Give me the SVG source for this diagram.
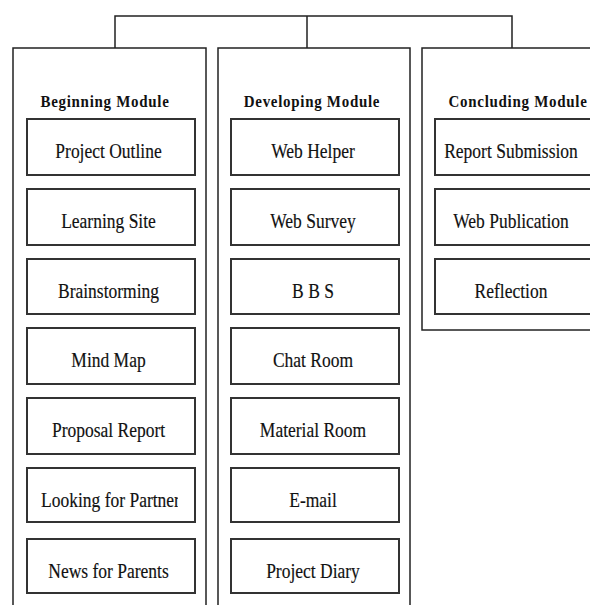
<svg xmlns="http://www.w3.org/2000/svg" width="590" height="605" viewBox="0 0 590 605">
  <style>
    .col { fill: #fff; stroke: #222; stroke-width: 1.5; }
    .item { fill: #fff; stroke: #333; stroke-width: 2; }
    .wire { fill: none; stroke: #222; stroke-width: 1.5; }
    .hd { font-family: "Liberation Serif", "Times New Roman", serif; font-weight: bold; font-size: 15px; letter-spacing: 0.7px; fill: #111; text-anchor: middle; }
    .lb { font-family: "Liberation Serif", "Times New Roman", serif; font-size: 17.5px; fill: #111; stroke: #111; stroke-width: 0.15; text-anchor: middle; }
  </style>
  <defs>
    <clipPath id="clipPartner"><rect x="27" y="460" width="151" height="70"/></clipPath>
  </defs>
  <rect width="590" height="605" fill="#fff"/>

  <!-- tree connectors -->
  <g id="connectors">
    <path class="wire" d="M115,48 V16 H512 V48 M307,16 V48"/>
  </g>

  <!-- Beginning module -->
  <g id="beginning">
    <rect class="col" x="13" y="48" width="193" height="580"/>
    <text class="hd" transform="translate(105,107) scale(1,1.15)">Beginning Module</text>
    <g id="project-outline"><rect class="item" x="27" y="119" width="168" height="56"/><text class="lb" transform="translate(108.5,158) scale(1,1.15)">Project Outline</text></g>
    <g id="learning-site"><rect class="item" x="27" y="189" width="168" height="56"/><text class="lb" transform="translate(108.5,228) scale(1,1.15)">Learning Site</text></g>
    <g id="brainstorming"><rect class="item" x="27" y="259" width="168" height="55"/><text class="lb" transform="translate(108.5,297.5) scale(1,1.15)">Brainstorming</text></g>
    <g id="mind-map"><rect class="item" x="27" y="328" width="168" height="56"/><text class="lb" transform="translate(108.5,367) scale(1,1.15)">Mind Map</text></g>
    <g id="proposal-report"><rect class="item" x="27" y="398" width="168" height="56"/><text class="lb" transform="translate(108.5,437) scale(1,1.15)">Proposal Report</text></g>
    <g id="looking-for-partner"><rect class="item" x="27" y="468" width="168" height="54"/><g clip-path="url(#clipPartner)"><text class="lb" transform="translate(110.5,507) scale(1,1.15)">Looking for Partner</text></g></g>
    <g id="news-for-parents"><rect class="item" x="27" y="539" width="168" height="54"/><text class="lb" transform="translate(108.5,577.5) scale(1,1.15)">News for Parents</text></g>
  </g>

  <!-- Developing module -->
  <g id="developing">
    <rect class="col" x="218" y="48" width="192" height="580"/>
    <text class="hd" transform="translate(312,107) scale(1,1.15)">Developing Module</text>
    <g id="web-helper"><rect class="item" x="231" y="119" width="168" height="56"/><text class="lb" transform="translate(313,158) scale(1,1.15)">Web Helper</text></g>
    <g id="web-survey"><rect class="item" x="231" y="189" width="168" height="56"/><text class="lb" transform="translate(313,228) scale(1,1.15)">Web Survey</text></g>
    <g id="bbs"><rect class="item" x="231" y="259" width="168" height="55"/><text class="lb" transform="translate(313,297.5) scale(1,1.15)">B B S</text></g>
    <g id="chat-room"><rect class="item" x="231" y="328" width="168" height="56"/><text class="lb" transform="translate(313,367) scale(1,1.15)">Chat Room</text></g>
    <g id="material-room"><rect class="item" x="231" y="398" width="168" height="56"/><text class="lb" transform="translate(313,437) scale(1,1.15)">Material Room</text></g>
    <g id="e-mail"><rect class="item" x="231" y="468" width="168" height="54"/><text class="lb" transform="translate(313,507) scale(1,1.15)">E-mail</text></g>
    <g id="project-diary"><rect class="item" x="231" y="539" width="168" height="54"/><text class="lb" transform="translate(313,577.5) scale(1,1.15)">Project Diary</text></g>
  </g>

  <!-- Concluding module -->
  <g id="concluding">
    <rect class="col" x="422" y="48" width="190" height="282"/>
    <text class="hd" transform="translate(518,107) scale(1,1.15)">Concluding Module</text>
    <g id="report-submission"><rect class="item" x="435" y="119" width="170" height="56"/><text class="lb" transform="translate(511,158) scale(1,1.15)">Report Submission</text></g>
    <g id="web-publication"><rect class="item" x="435" y="189" width="170" height="56"/><text class="lb" transform="translate(511,228) scale(1,1.15)">Web Publication</text></g>
    <g id="reflection"><rect class="item" x="435" y="259" width="170" height="55"/><text class="lb" transform="translate(511,297.5) scale(1,1.15)">Reflection</text></g>
  </g>
</svg>
